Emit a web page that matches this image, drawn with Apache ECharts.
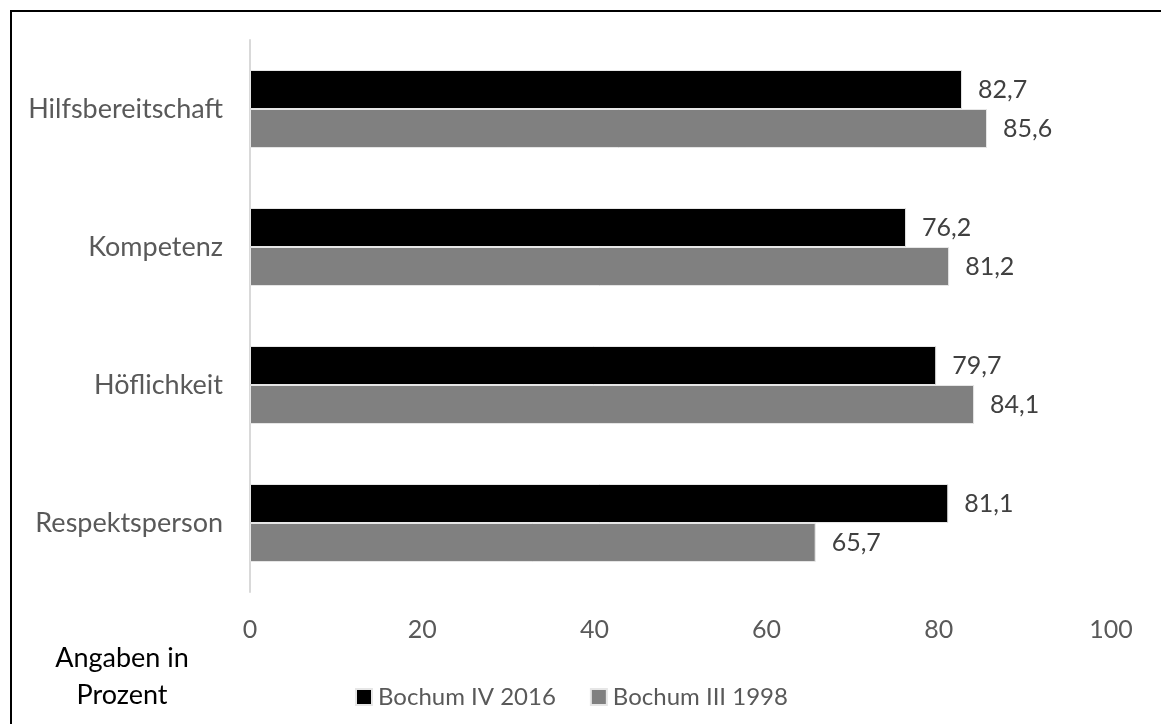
<!DOCTYPE html>
<html>
<head>
<meta charset="utf-8">
<script src="https://cdn.jsdelivr.net/npm/echarts@6/dist/echarts.min.js"></script>
<style>
  html, body { margin: 0; padding: 0; background: #fff; }
  #chart { width: 1161px; height: 724px; }
</style>
</head>
<body>
<div id="chart"></div>
<script>
// Survey ratings of the police, two study waves (values in percent)
const categories = ['Hilfsbereitschaft', 'Kompetenz', 'Höflichkeit', 'Respektsperson'];
const seriesNames = ['Bochum IV 2016', 'Bochum III 1998'];
const values2016 = [82.7, 76.2, 79.7, 81.1];
const values1998 = [85.6, 81.2, 84.1, 65.7];
const xTicks = { min: 0, max: 100, interval: 20 };
const unitNote = 'Angaben in\nProzent';

const FONT = 'Lato, "Open Sans", sans-serif';
const fmt = v => v.toFixed(1).replace('.', ',');

const chart = echarts.init(document.getElementById('chart'), null, { renderer: 'canvas' });

const valueLabel = {
  show: true,
  position: 'right',
  distance: 16,
  color: '#404040',
  fontFamily: FONT,
  fontSize: 25,
  formatter: p => fmt(p.value)
};

chart.setOption({
  animation: false,
  backgroundColor: '#ffffff',
  grid: { left: 250, right: 50, top: 40, bottom: 132, containLabel: false },
  xAxis: {
    type: 'value',
    min: xTicks.min,
    max: xTicks.max,
    interval: xTicks.interval,
    axisLine: { show: false },
    axisTick: { show: false },
    splitLine: { show: false },
    axisLabel: { color: '#595959', fontFamily: FONT, fontSize: 25, margin: 25 }
  },
  yAxis: {
    type: 'category',
    data: categories,
    inverse: true,
    axisLine: { show: true, lineStyle: { color: '#d9d9d9', width: 2 } },
    axisTick: { show: false },
    axisLabel: { color: '#595959', fontFamily: FONT, fontSize: 27, margin: 27 }
  },
  legend: {
    data: seriesNames,
    left: 350,
    top: 680,
    icon: 'rect',
    itemWidth: 16,
    itemHeight: 16,
    itemGap: 34,
    textStyle: { color: '#595959', fontFamily: FONT, fontSize: 24, padding: [0, 0, 0, 1] }
  },
  series: [
    {
      name: seriesNames[0],
      type: 'bar',
      data: values2016,
      barGap: '0%',
      barCategoryGap: '43.5%',
      itemStyle: { color: '#000000', borderColor: '#e6e6e6', borderWidth: 1 },
      label: valueLabel
    },
    {
      name: seriesNames[1],
      type: 'bar',
      data: values1998,
      barGap: '0%',
      barCategoryGap: '43.5%',
      itemStyle: { color: '#808080', borderColor: '#e6e6e6', borderWidth: 1 },
      label: valueLabel
    }
  ],
  graphic: [
    // frame along the top and left edge
    { type: 'line', shape: { x1: 10, y1: 11, x2: 1161, y2: 11 }, style: { stroke: '#000', lineWidth: 2 } },
    { type: 'line', shape: { x1: 11, y1: 10, x2: 11, y2: 724 }, style: { stroke: '#000', lineWidth: 2 } },
    // unit note under the category labels
    {
      type: 'text',
      x: 122,
      y: 677,
      style: {
        text: unitNote,
        fill: '#000',
        font: '27px ' + FONT,
        align: 'center',
        verticalAlign: 'middle',
        lineHeight: 37
      }
    }
  ]
});
</script>
</body>
</html>
